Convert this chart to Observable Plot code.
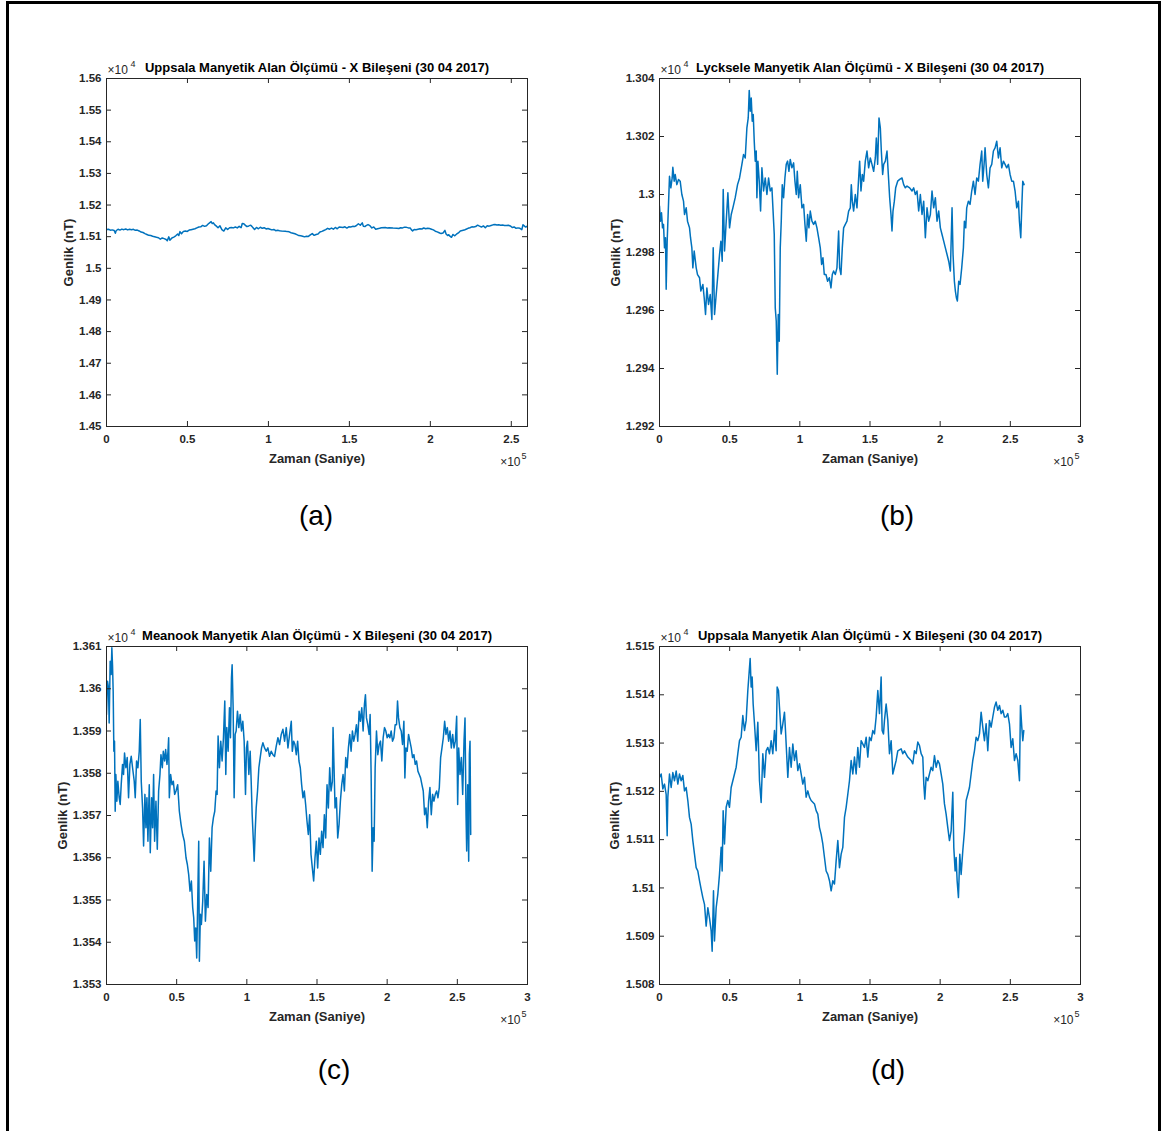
<!DOCTYPE html>
<html>
<head>
<meta charset="utf-8">
<script src="https://cdn.jsdelivr.net/npm/d3@7"></script>
<script src="https://cdn.jsdelivr.net/npm/@observablehq/plot@0.6"></script>
<style>
  html, body { margin: 0; padding: 0; background: #fff; }
  #page { position: relative; width: 1161px; height: 1131px; overflow: hidden; background: #fff; font-family: "Liberation Sans", Arial, sans-serif; }
  #border { position: absolute; left: 6px; top: 1px; width: 1149px; height: 1140px; border: 3px solid #000; border-bottom: none; }
  .panel { position: absolute; }
  .tag { position: absolute; font-size: 28px; color: #000; transform: translate(-50%, -50%); white-space: nowrap; }
</style>
</head>
<body>
<div id="page">
  <div id="border"></div>
</div>
<script>
// ---- Data: time (s), X component (nT) ----
const uppsala = [
[0,15122.9],[1188,15123.6],[2375,15120.5],[3563,15121.5],[4750,15119.4],[5463,15110.8],[5938,15118.8],[7125,15123.6],[8313,15120.8],[9500,15123.9],
[10688,15122.2],[11875,15124.2],[13063,15121.5],[14250,15123.6],[15438,15122.2],[16625,15123.3],[17813,15120.1],[19000,15120.8],[20188,15118.1],[21375,15114.6],
[22563,15113.2],[23750,15109.8],[24938,15107.0],[26125,15104.2],[27313,15103.5],[28500,15101.5],[29688,15099.7],[30875,15098.0],[32063,15096.6],[33250,15092.1],
[34438,15095.9],[35625,15093.8],[36813,15091.1],[37525,15086.9],[38475,15099.4],[39188,15089.0],[40375,15095.9],[41563,15098.7],[42750,15102.8],[43938,15108.4],
[44650,15103.5],[45363,15116.0],[46313,15109.1],[47500,15116.7],[48688,15118.1],[49875,15116.7],[51063,15120.8],[52250,15122.2],[53438,15123.6],[54625,15125.0],
[55813,15127.8],[57000,15130.5],[58188,15131.2],[59375,15135.7],[60563,15132.6],[61750,15134.7],[62938,15140.9],[63650,15143.7],[64600,15147.5],[65313,15141.6],
[66025,15143.7],[66738,15138.1],[67688,15134.0],[68875,15128.4],[70063,15134.3],[71250,15122.2],[72438,15117.7],[73625,15127.8],[74813,15122.9],[76000,15128.4],
[77188,15129.1],[78375,15127.8],[79563,15130.5],[80750,15127.8],[81938,15132.6],[83125,15128.4],[83838,15141.6],[84788,15140.9],[85500,15137.4],[86688,15131.9],
[87875,15134.0],[89063,15136.4],[89775,15132.6],[90488,15128.4],[91438,15122.9],[92625,15129.1],[93813,15125.0],[95000,15129.8],[96188,15126.4],[97375,15128.4],
[98563,15124.3],[99750,15125.7],[100938,15123.6],[102125,15121.5],[103313,15122.9],[104500,15118.8],[105688,15120.1],[106875,15118.8],[108063,15118.1],[110438,15117.4],
[111625,15116.0],[112813,15115.3],[114000,15112.5],[115188,15111.1],[116375,15109.1],[117563,15106.3],[118750,15103.5],[119938,15102.8],[121125,15101.5],[122313,15099.4],
[123500,15101.5],[124688,15100.8],[125875,15105.6],[127063,15109.8],[128250,15104.2],[129438,15107.0],[130625,15108.4],[131813,15114.6],[133000,15116.7],[134188,15119.4],
[135375,15122.2],[136563,15126.4],[137750,15123.6],[138938,15127.1],[140125,15123.6],[141313,15129.1],[142500,15125.0],[143688,15130.5],[146063,15129.1],[147250,15131.2],
[148438,15127.1],[149625,15131.2],[150813,15130.5],[152000,15132.6],[153188,15131.9],[154375,15135.4],[155563,15140.9],[156750,15136.1],[157938,15143.7],[158650,15132.6],
[159600,15131.9],[160313,15134.7],[161500,15138.1],[162688,15134.7],[163875,15127.8],[165063,15130.5],[166250,15123.6],[167438,15125.0],[168625,15126.4],[169813,15128.4],
[172188,15128.8],[173375,15127.8],[174563,15128.4],[176938,15127.1],[179313,15126.4],[180500,15125.7],[181688,15128.4],[182875,15127.8],[184063,15130.2],[185250,15129.5],
[186438,15127.8],[187625,15127.1],[188338,15121.5],[189050,15118.4],[190000,15122.9],[191188,15122.2],[192375,15123.6],[193563,15125.0],[194750,15124.3],[195938,15127.4],
[197125,15125.0],[198313,15126.4],[199500,15125.7],[200688,15123.6],[201875,15121.5],[203063,15117.4],[204250,15115.3],[205438,15112.5],[206625,15109.8],[207813,15111.8],
[209000,15119.8],[209713,15108.4],[210663,15103.5],[211375,15106.3],[212088,15101.5],[213038,15098.0],[213988,15107.0],[214938,15102.8],[216125,15107.7],[217313,15111.8],
[218500,15118.1],[219688,15119.4],[220875,15120.8],[222063,15123.6],[223250,15126.4],[224438,15128.4],[225625,15131.2],[226813,15130.5],[228000,15131.9],[229188,15136.4],
[230375,15133.3],[231563,15130.5],[232750,15134.0],[233938,15128.4],[235125,15134.7],[236313,15133.3],[237500,15135.4],[238688,15137.4],[239875,15138.5],[241063,15136.8],
[242250,15137.8],[243438,15136.1],[244625,15136.8],[245813,15135.4],[247000,15135.4],[248188,15136.1],[249375,15134.0],[250563,15129.1],[251750,15130.9],[252938,15126.4],
[254125,15127.8],[255313,15126.4],[256500,15122.2],[257213,15137.8],[258163,15133.3],[258875,15130.5],[259588,15132.6]
];

const lycksele = [
[0,12996.0],[713,12990.8],[1426,12993.7],[2139,12988.5],[2852,12989.7],[3566,12981.6],[4279,12985.1],[4754,12967.3],[5467,12983.9],[6418,12996.6],
[7131,13006.3],[8082,13002.3],[9033,13005.7],[9508,13009.4],[10459,13004.6],[11172,13006.9],[12360,13003.4],[13549,13005.2],[14737,13004.6],[15926,13000.0],
[17114,12997.7],[17828,12993.1],[19016,12995.4],[19967,12990.8],[21393,12988.5],[22106,12985.1],[23057,12981.6],[23770,12974.7],[24721,12980.5],[26147,12974.7],
[27098,12972.4],[28524,12971.3],[29475,12966.7],[30901,12969.0],[31852,12964.4],[32803,12958.6],[33753,12967.8],[34942,12962.1],[36130,12965.5],[37319,12956.9],
[38270,12981.6],[39221,12958.6],[40409,12965.5],[41598,12972.4],[42786,12979.3],[43737,12983.9],[44688,12977.0],[45401,13001.7],[46352,12980.5],[47540,12990.8],
[48729,13000.6],[49917,12988.5],[51106,12993.1],[52294,12995.4],[53958,12998.9],[55622,13003.4],[57048,13005.7],[58712,13010.4],[59900,13013.8],[61089,13012.6],
[62277,13023.0],[63228,13026.4],[63941,13035.9],[64654,13028.7],[65368,13033.3],[66081,13025.3],[66794,13027.6],[67507,13018.4],[68220,13011.5],[68933,13015.0],
[69408,12998.9],[70122,13011.5],[71072,13004.6],[72023,12994.3],[72974,13009.2],[74162,13001.2],[75351,13005.7],[76539,13000.0],[77728,13005.7],[78916,13001.2],
[80105,13002.3],[80818,12995.4],[81769,12986.2],[82482,12960.9],[83195,12956.3],[83908,12938.0],[84621,12958.6],[85334,12949.4],[86047,12981.6],[86761,12990.8],
[87474,13003.4],[88424,12998.9],[89375,13005.7],[90326,13010.4],[91277,13011.5],[92228,13008.0],[93178,13012.1],[94367,13009.2],[95555,13010.9],[96506,13004.6],
[97457,13000.0],[98170,13008.0],[99121,12998.9],[100309,13003.4],[101498,12995.4],[102686,12996.6],[103637,12989.7],[104588,12983.9],[105539,12993.1],[106490,12988.5],
[107440,12994.3],[108629,12990.8],[109817,12989.7],[111006,12990.8],[112194,12988.5],[113383,12985.1],[114571,12981.6],[115522,12975.9],[116473,12978.2],[117424,12972.4],
[118612,12972.4],[119801,12970.1],[120989,12971.3],[122178,12967.8],[123129,12972.4],[124079,12973.6],[125268,12972.4],[126456,12974.7],[127645,12987.4],[128358,12974.7],
[129309,12972.4],[130260,12981.6],[131210,12988.5],[132399,12989.7],[133587,12990.8],[134776,12994.3],[135964,12995.4],[136677,13003.4],[137391,12997.7],[138341,12994.3],
[139530,13000.0],[140718,12995.4],[141907,13005.7],[142620,13011.5],[143571,13001.2],[144522,13006.9],[145472,13004.6],[146661,13011.5],[147849,13015.0],[149038,13009.2],
[150226,13012.6],[151415,13010.4],[152603,13008.0],[153792,13012.6],[154505,13019.5],[155456,13010.4],[156407,13026.4],[157357,13023.0],[158070,13015.0],[159021,13006.9],
[159734,13010.4],[160923,13011.5],[162111,13015.0],[163062,13006.9],[164013,12998.9],[164964,12993.1],[165677,12987.4],[166390,12994.3],[167341,12997.7],[168292,13002.3],
[169718,13004.6],[171144,13005.2],[172808,13005.7],[173996,13003.4],[175185,13002.3],[176373,13002.9],[178275,13002.3],[179939,13001.2],[181127,13002.3],[182316,13000.0],
[183504,13001.2],[184693,12994.3],[185881,13000.0],[187070,12993.1],[188258,12997.7],[189447,12985.1],[190635,12995.4],[191824,12990.8],[193012,12993.1],[194201,13001.2],
[195389,12995.4],[196578,12998.9],[197766,12990.8],[198955,12994.3],[200143,12988.5],[201332,12986.2],[202520,12983.9],[203709,12981.6],[204897,12979.3],[206086,12977.0],
[207274,12973.6],[208463,12995.4],[209176,12979.3],[210127,12970.1],[210840,12966.7],[211553,12964.4],[212266,12963.3],[213217,12970.1],[214168,12969.0],[215356,12974.7],
[216545,12981.6],[217258,12990.8],[218209,12988.5],[218921,12995.4],[220110,12997.7],[221298,12996.6],[222487,13001.2],[223675,13004.6],[224864,13000.0],[226052,13005.7],
[227241,13004.6],[228429,13010.4],[229618,13015.0],[230331,13004.6],[231282,13010.4],[231995,13016.1],[233181,13006.9],[234370,13002.3],[235558,13009.2],[236747,13010.4],
[237935,13015.0],[239124,13016.1],[240312,13018.4],[241501,13012.6],[242689,13016.1],[243878,13009.2],[245066,13011.5],[246255,13010.4],[247443,13009.2],[248632,13010.4],
[249820,13006.9],[251009,13004.6],[252197,13004.6],[253386,13001.2],[254574,12995.4],[255763,12997.7],[256476,12990.8],[257427,12985.1],[258140,12995.4],[258853,13004.6],
[259804,13003.4]
];

const meanook = [
[0,13593.9],[714,13601.8],[1429,13600.2],[1905,13591.9],[2619,13606.5],[3333,13603.4],[3810,13609.7],[4286,13605.7],[4762,13599.4],[5238,13585.2],
[5714,13587.6],[6191,13571.0],[6667,13579.7],[7381,13573.4],[8095,13578.1],[9048,13574.2],[9762,13572.6],[10476,13577.3],[11429,13582.1],[12143,13579.7],
[12857,13584.8],[13810,13581.3],[14762,13583.7],[15715,13574.2],[16667,13582.1],[17619,13584.0],[18572,13581.3],[19762,13578.1],[20477,13574.2],[21429,13582.9],
[22381,13581.3],[23334,13585.2],[24048,13592.7],[24762,13578.1],[25715,13571.8],[26429,13562.8],[27382,13575.0],[28096,13567.1],[28810,13574.2],[29524,13563.9],
[30477,13577.3],[31191,13561.2],[32144,13574.2],[32858,13567.1],[33572,13579.7],[34286,13563.9],[35239,13573.4],[36191,13562.0],[37144,13575.8],[38096,13579.7],
[38810,13584.4],[39763,13581.3],[40477,13585.2],[41429,13582.9],[42144,13585.6],[43096,13582.1],[43810,13585.2],[44287,13588.4],[44763,13574.2],[45715,13579.7],
[46668,13577.3],[47620,13578.1],[48572,13575.0],[49525,13575.8],[50715,13577.3],[51906,13571.0],[53096,13567.9],[54287,13565.5],[55477,13563.9],[56668,13560.0],
[57620,13558.4],[58573,13556.0],[59525,13552.1],[60477,13554.5],[61430,13548.2],[62144,13545.8],[62858,13540.3],[63573,13543.4],[64287,13536.3],[65001,13549.7],
[65716,13563.9],[66192,13535.5],[66906,13546.6],[67620,13544.2],[68573,13549.7],[69525,13559.2],[70478,13545.0],[71430,13551.3],[72382,13548.2],[73335,13564.7],
[74287,13556.8],[75240,13567.1],[76192,13569.5],[77144,13571.0],[78097,13575.8],[78811,13575.0],[79525,13588.8],[80478,13581.3],[81430,13587.6],[82383,13582.9],
[83335,13588.4],[84287,13597.1],[85002,13579.7],[85716,13590.8],[86668,13585.2],[87621,13595.5],[88335,13588.4],[89049,13602.6],[89526,13605.7],[90240,13595.5],
[90954,13574.2],[91669,13589.2],[92383,13590.0],[93335,13594.7],[94288,13590.8],[95240,13593.9],[96192,13590.0],[97145,13592.3],[98097,13587.6],[99050,13575.0],
[99764,13586.0],[100478,13587.6],[101431,13579.7],[102383,13585.2],[103097,13578.1],[103812,13570.2],[104764,13563.1],[105240,13559.2],[105955,13566.3],[106669,13571.8],
[107621,13575.8],[108574,13581.3],[109526,13583.7],[110478,13586.0],[111431,13587.2],[112621,13586.0],[113812,13585.2],[115002,13586.0],[116193,13584.0],[117383,13585.2],
[118574,13584.4],[119764,13584.0],[120955,13586.4],[122145,13588.4],[123336,13586.8],[124526,13589.2],[125717,13590.4],[126907,13587.6],[128098,13590.8],[129288,13586.0],
[130479,13589.2],[131669,13592.3],[132384,13585.2],[133336,13587.6],[134288,13586.8],[135241,13584.4],[136193,13587.6],[137146,13582.9],[138098,13581.3],[139050,13577.3],
[140003,13574.2],[140955,13575.8],[141908,13572.6],[142860,13568.7],[143812,13565.5],[144765,13570.2],[145717,13560.8],[146670,13557.6],[147622,13554.5],[148574,13560.0],
[149527,13563.9],[150479,13557.6],[151432,13564.7],[152384,13560.8],[153336,13566.3],[154289,13562.4],[155241,13570.2],[156194,13564.7],[157146,13577.3],[158098,13571.8],
[159051,13581.3],[160003,13575.8],[160956,13578.1],[161432,13590.8],[162146,13581.3],[162860,13571.8],[163813,13574.2],[164765,13564.7],[165718,13567.9],[166670,13573.4],
[167622,13577.3],[168575,13579.7],[169527,13575.8],[170480,13583.7],[171432,13581.3],[172384,13586.0],[173337,13589.2],[174289,13585.2],[175242,13590.0],[176194,13587.6],
[177146,13589.2],[178099,13591.5],[179051,13587.6],[180004,13594.7],[180956,13592.3],[181908,13595.5],[182861,13590.0],[183813,13596.3],[184528,13598.6],[185242,13593.1],
[186194,13591.5],[187147,13589.2],[187861,13593.9],[188575,13579.7],[189290,13556.8],[190004,13567.1],[190718,13563.9],[191432,13581.3],[192385,13590.0],[193337,13584.4],
[194290,13586.8],[195242,13587.6],[196194,13582.9],[197147,13588.4],[198099,13590.8],[199052,13590.0],[200004,13588.4],[200956,13589.2],[201909,13588.4],[202861,13590.0],
[203814,13587.6],[204766,13588.4],[205718,13591.5],[206671,13591.5],[207385,13597.1],[208099,13593.1],[209052,13590.8],[210004,13590.0],[210957,13586.8],[211909,13592.3],
[212623,13578.9],[213338,13586.0],[214290,13585.2],[215242,13589.2],[216195,13587.6],[217147,13586.0],[218100,13583.7],[219052,13584.4],[220004,13582.1],[220957,13582.9],
[221909,13580.5],[222862,13579.7],[223814,13578.9],[224766,13577.3],[225719,13575.8],[226671,13570.2],[227624,13571.8],[228576,13567.1],[229528,13573.4],[230481,13576.6],
[231433,13570.2],[232386,13575.0],[233338,13573.4],[234290,13575.0],[235243,13575.8],[236195,13574.2],[237148,13576.6],[238100,13583.7],[239052,13586.0],[240005,13588.4],
[240957,13592.3],[241910,13589.2],[242862,13590.8],[243814,13587.6],[244767,13590.0],[245719,13586.0],[246672,13589.2],[247624,13586.0],[248576,13587.6],[249529,13593.5],
[250243,13572.6],[250957,13586.0],[251910,13579.7],[252862,13583.7],[253815,13575.0],[254767,13587.6],[255481,13593.1],[256196,13570.2],[256672,13561.6],[257386,13577.3],
[258100,13559.2],[258577,13584.4],[259053,13587.6],[259529,13565.5]
];

// ---- Axis ticks ----
const xTicksA = [0, 50000, 100000, 150000, 200000, 250000];
const xTicks = [0, 50000, 100000, 150000, 200000, 250000, 300000];
const yTicksA = [14500, 14600, 14700, 14800, 14900, 15000, 15100, 15200, 15300, 15400, 15500, 15600];
const yTicksB = [12920, 12940, 12960, 12980, 13000, 13020, 13040];
const yTicksC = [13530, 13540, 13550, 13560, 13570, 13580, 13590, 13600, 13610];
const yTicksD = [15080, 15090, 15100, 15110, 15120, 15130, 15140, 15150];

// ---- Texts ----
const titles = [
  "Uppsala Manyetik Alan Ölçümü - X Bileşeni (30 04 2017)",
  "Lycksele Manyetik Alan Ölçümü - X Bileşeni (30 04 2017)",
  "Meanook Manyetik Alan Ölçümü - X Bileşeni (30 04 2017)",
  "Uppsala Manyetik Alan Ölçümü - X Bileşeni (30 04 2017)"
];
const xLabel = "Zaman (Saniye)";
const yLabel = "Genlik (nT)";
const tags = ["(a)", "(b)", "(c)", "(d)"];

const FONT = "'Liberation Sans', Arial, Helvetica, sans-serif";
const INK = "#262626";
const LINE = "#0072BD";

const fmtX = d => String(+(d / 1e5).toFixed(3));
const fmtY = d => String(+(d / 1e4).toFixed(4));

function panel({data, xDomain, yDomain, xT, yT, title, left, top, width, height, ml, mr, mt, mb, ylabDx}) {
  const iw = width - ml - mr, ih = height - mt - mb;
  const chart = Plot.plot({
    width, height,
    marginLeft: ml, marginRight: mr, marginTop: mt, marginBottom: mb,
    x: {domain: xDomain},
    y: {domain: yDomain},
    style: {fontFamily: FONT, fontSize: "11.5px", color: INK, background: "transparent", overflow: "visible"},
    marks: [
      Plot.line(data, {x: d => d[0], y: d => d[1], stroke: LINE, strokeWidth: 1.5, clip: true}),
      Plot.ruleX(xT, {x: d => d, insetTop: ih - 5, stroke: INK, strokeWidth: 1}),
      Plot.ruleX(xT, {x: d => d, insetBottom: ih - 5, stroke: INK, strokeWidth: 1}),
      Plot.ruleY(yT, {y: d => d, insetRight: iw - 5, stroke: INK, strokeWidth: 1}),
      Plot.ruleY(yT, {y: d => d, insetLeft: iw - 5, stroke: INK, strokeWidth: 1}),
      Plot.frame({stroke: INK, strokeWidth: 1}),
      Plot.axisX({ticks: xT, tickSize: 0, tickPadding: 8, tickFormat: fmtX, label: null, fontWeight: "bold", fontSize: 11.5, fill: INK}),
      Plot.axisY({ticks: yT, tickSize: 0, tickPadding: 5, tickFormat: fmtY, label: null, fontWeight: "bold", fontSize: 11.5, fill: INK}),
      Plot.text([title], {frameAnchor: "top", lineAnchor: "middle", dy: -11, fontWeight: "bold", fontSize: 13, fill: "#000"}),
      Plot.text(["×10"], {frameAnchor: "top-left", textAnchor: "start", lineAnchor: "middle", dx: 1, dy: -8, fontSize: 12, fill: INK}),
      Plot.text(["4"], {frameAnchor: "top-left", textAnchor: "start", lineAnchor: "middle", dx: 24, dy: -14, fontSize: 9, fill: INK}),
      Plot.text([xLabel], {frameAnchor: "bottom", lineAnchor: "middle", dy: 32, fontWeight: "bold", fontSize: 13, fill: INK}),
      Plot.text(["×10"], {frameAnchor: "bottom-right", textAnchor: "end", lineAnchor: "middle", dx: -7, dy: 36, fontSize: 12, fill: INK}),
      Plot.text(["5"], {frameAnchor: "bottom-right", textAnchor: "end", lineAnchor: "middle", dx: -1, dy: 30, fontSize: 9, fill: INK}),
      Plot.text([yLabel], {frameAnchor: "left", textAnchor: "middle", lineAnchor: "middle", rotate: -90, dx: ylabDx, fontWeight: "bold", fontSize: 13, fill: INK})
    ]
  });
  chart.classList.add("panel");
  chart.style.left = left + "px";
  chart.style.top = top + "px";
  return chart;
}

const page = document.getElementById("page");
page.appendChild(panel({data: uppsala, xDomain: [0, 260000], yDomain: [14500, 15600], xT: xTicksA, yT: yTicksA, title: titles[0],
  left: 0, top: 0, width: 580, height: 480, ml: 106, mr: 53, mt: 78, mb: 54, ylabDx: -38}));
page.appendChild(panel({data: lycksele, xDomain: [0, 300000], yDomain: [12920, 13040], xT: xTicks, yT: yTicksB, title: titles[1],
  left: 580, top: 0, width: 580, height: 480, ml: 79, mr: 80, mt: 78, mb: 54, ylabDx: -44}));
page.appendChild(panel({data: meanook, xDomain: [0, 300000], yDomain: [13530, 13610], xT: xTicks, yT: yTicksC, title: titles[2],
  left: 0, top: 560, width: 580, height: 480, ml: 106, mr: 53, mt: 86, mb: 56, ylabDx: -44}));
page.appendChild(panel({data: uppsala, xDomain: [0, 300000], yDomain: [15080, 15150], xT: xTicks, yT: yTicksD, title: titles[3],
  left: 580, top: 560, width: 580, height: 480, ml: 79, mr: 80, mt: 86, mb: 56, ylabDx: -45}));

const tagPos = [[316, 516], [897, 516], [334, 1070], [888, 1070]];
tags.forEach((t, i) => {
  const el = document.createElement("div");
  el.className = "tag";
  el.textContent = t;
  el.style.left = tagPos[i][0] + "px";
  el.style.top = tagPos[i][1] + "px";
  page.appendChild(el);
});
</script>
</body>
</html>
